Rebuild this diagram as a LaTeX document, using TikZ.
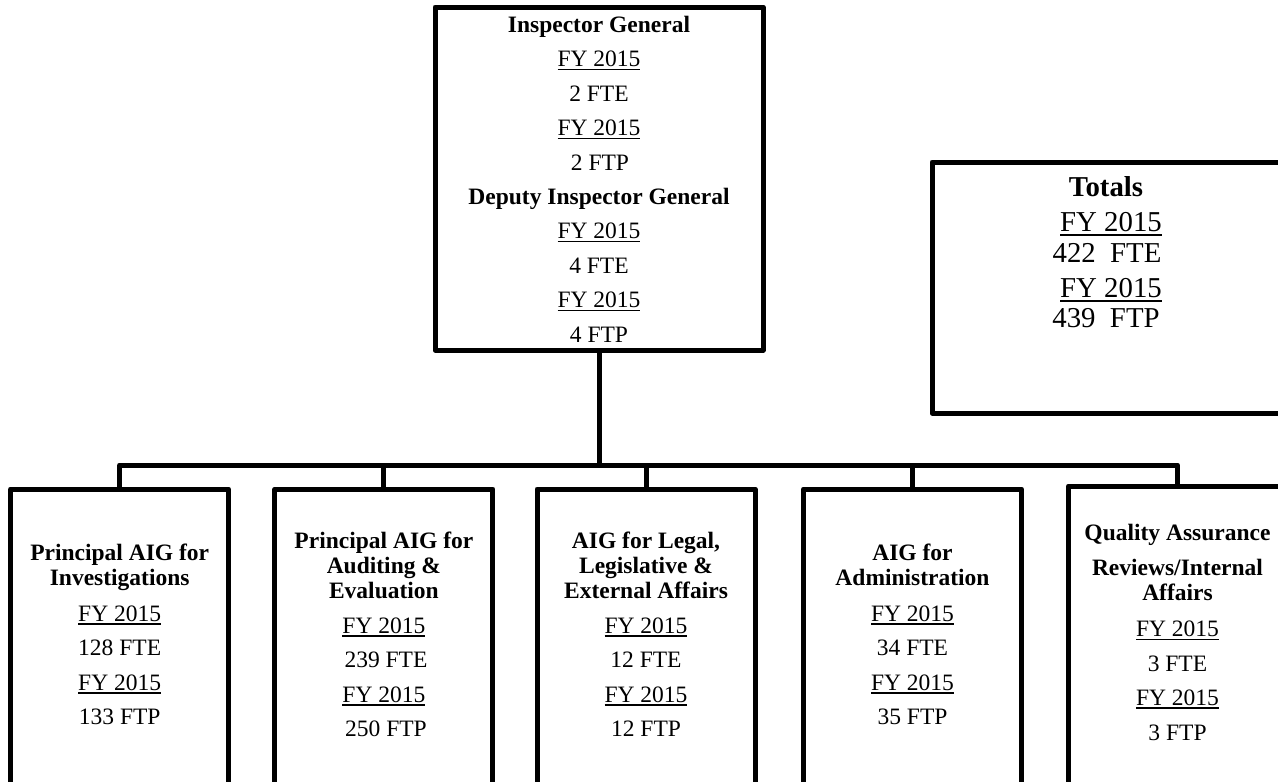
\documentclass[tikz,border=0pt]{standalone}
\usepackage{fontspec}
\setmainfont{Liberation Serif}
\newcommand\fyu[1]{\setbox0\hbox{#1}\rlap{\rule[-3.5pt]{\wd0}{1.6pt}}\box0}
\newcommand\fyt[1]{\setbox0\hbox{#1}\rlap{\rule[-4.5pt]{\wd0}{2pt}}\box0}
\begin{document}
\begin{tikzpicture}[x=1pt,y=-1pt,
  box/.style={draw, line width=5pt, line join=round, inner sep=0pt},
  conn/.style={line width=5pt, line join=round},
  txt/.style={anchor=base, inner sep=0pt, font=\fontsize{23.5}{28}\selectfont},
  ttl/.style={anchor=base, inner sep=0pt, font=\fontsize{23.5}{28}\selectfont\bfseries},
  tot/.style={anchor=base, inner sep=0pt, font=\fontsize{28.8}{34}\selectfont},
  totb/.style={tot, font=\fontsize{28.8}{34}\selectfont\bfseries}]
\clip (0,0) rectangle (1278,782);
\fill[white] (0,0) rectangle (1278,782);
% boxes
\node[box, minimum width=328pt, minimum height=343pt] (ig) at (599,178.5) {};
\node[box, minimum width=352pt, minimum height=251pt] (tot) at (1108,287.5) {};
\node[box, minimum width=218pt, minimum height=311pt] (b1) at (119.7,644.5) {};
\node[box, minimum width=218pt, minimum height=311pt] (b2) at (383.9,644.5) {};
\node[box, minimum width=218pt, minimum height=311pt] (b3) at (646,644.5) {};
\node[box, minimum width=218pt, minimum height=311pt] (b4) at (912.5,644.5) {};
\node[box, minimum width=218pt, minimum height=314pt] (b5) at (1177.5,643) {};
% connectors
\coordinate (bus) at (599,465);
\draw[conn] (ig.south) -- (bus);
\draw[conn] (b1.north) |- (bus) -| (b5.north);
\foreach \b in {b2,b3,b4} \draw[conn] (\b.north) -- (\b.north |- bus);
% top box text
\node[ttl] (ig1) at (599,32.5) {Inspector General};
\node[txt] (ig2) at (599,66.9) {\fyu{FY 2015}};
\node[txt] (ig3) at (599,101.3) {2 FTE};
\node[txt] (ig4) at (599,135.7) {\fyu{FY 2015}};
\node[txt] (ig5) at (600,170.1) {2 FTP};
\node[ttl] (ig6) at (599,204.5) {Deputy Inspector General};
\node[txt] (ig7) at (599,238.9) {\fyu{FY 2015}};
\node[txt] (ig8) at (599,273.3) {4 FTE};
\node[txt] (ig9) at (599,307.7) {\fyu{FY 2015}};
\node[txt] (ig10) at (599,342.1) {4 FTP};
% totals
\node[totb] (t1) at (1106,196.5) {Totals};
\node[tot] (t2) at (1111,231) {\fyt{FY 2015}};
\node[tot] (t3) at (1107,262) {422\ \ FTE};
\node[tot] (t4) at (1111,297) {\fyt{FY 2015}};
\node[tot] (t5) at (1106,327) {439\ \ FTP};
% box 1
\node[ttl] (a1) at (119.7,560.7) {Principal AIG for};
\node[ttl] (a2) at (119.7,585.7) {Investigations};
\node[txt] (a3) at (119.7,621) {\fyu{FY 2015}};
\node[txt] (a4) at (119.7,655.5) {128 FTE};
\node[txt] (a5) at (119.7,690) {\fyu{FY 2015}};
\node[txt] (a6) at (119.7,724.5) {133 FTP};
% box 2
\node[ttl] (c1) at (383.9,548.3) {Principal AIG for};
\node[ttl] (c2) at (383.9,573.3) {Auditing \&};
\node[ttl] (c3) at (383.9,598.3) {Evaluation};
\node[txt] (c4) at (383.9,633.3) {\fyu{FY 2015}};
\node[txt] (c5) at (386,667.8) {239 FTE};
\node[txt] (c6) at (383.9,702.3) {\fyu{FY 2015}};
\node[txt] (c7) at (386,736.8) {250 FTP};
% box 3
\node[ttl] (d1) at (646,548.3) {AIG for Legal,};
\node[ttl] (d2) at (646,573.3) {Legislative \&};
\node[ttl] (d3) at (646,598.3) {External Affairs};
\node[txt] (d4) at (646,633.3) {\fyu{FY 2015}};
\node[txt] (d5) at (646,667.8) {12 FTE};
\node[txt] (d6) at (646,702.3) {\fyu{FY 2015}};
\node[txt] (d7) at (646,736.8) {12 FTP};
% box 4
\node[ttl] (e1) at (912.5,560.7) {AIG for};
\node[ttl] (e2) at (912.5,585.7) {Administration};
\node[txt] (e3) at (912.5,621) {\fyu{FY 2015}};
\node[txt] (e4) at (912.5,655.5) {34 FTE};
\node[txt] (e5) at (912.5,690) {\fyu{FY 2015}};
\node[txt] (e6) at (912.5,724.5) {35 FTP};
% box 5
\node[ttl] (f1) at (1177.5,540.7) {Quality Assurance};
\node[ttl] (f2) at (1177.5,575) {Reviews/Internal};
\node[ttl] (f3) at (1177.5,600) {Affairs};
\node[txt] (f4) at (1177.5,636.7) {\fyu{FY 2015}};
\node[txt] (f5) at (1177.5,671) {3 FTE};
\node[txt] (f6) at (1177.5,705.5) {\fyu{FY 2015}};
\node[txt] (f7) at (1177.5,740) {3 FTP};
\end{tikzpicture}
\end{document}
